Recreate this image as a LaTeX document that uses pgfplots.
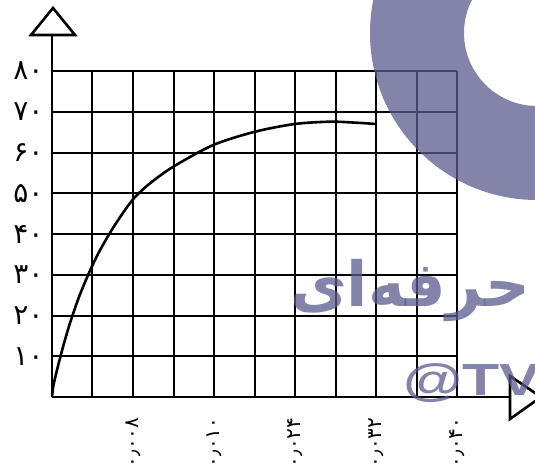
\documentclass[border=0pt]{standalone}
\usepackage{fontspec}
\usepackage{graphicx}
\usepackage{pgfplots}
\pgfplotsset{compat=1.18}
\TeXXeTstate=1
\newfontfamily\fa[Script=Arabic]{DejaVu Sans}
\newfontfamily\wmlat{Liberation Sans}
\definecolor{wm}{RGB}{91,91,142}

\begin{document}
\begin{tikzpicture}[x=1pt,y=1pt]
\useasboundingbox (0,0) rectangle (535,472);
\clip (0,0) rectangle (535,472);
\begin{axis}[
    at={(52pt,75pt)}, anchor=south west,
    scale only axis, width=405pt, height=326pt,
    xmin=0, xmax=0.040, ymin=0, ymax=80,
    axis lines=left,
    axis line style={-, line width=2.8pt},
    scaled x ticks=false,
    xtick={0.004,0.008,0.012,0.016,0.020,0.024,0.028,0.032,0.036,0.040},
    xticklabels={,۰٫۰۰۸,,۰٫۰۱۰,,۰٫۰۲۴,,۰٫۰۳۲,,۰٫۰۴۰},
    ytick={10,20,30,40,50,60,70,80},
    yticklabels={۱۰,۲۰,۳۰,۴۰,۵۰,۶۰,۷۰,۸۰},
    major tick length=0pt,
    grid=major,
    major grid style={black, line width=2pt},
    yticklabel style={font=\fa\fontsize{28}{30}\selectfont, text=black,
        anchor=east, xshift=-5pt},
    xticklabel style={font=\fa\fontsize{20}{22}\selectfont, text=black,
        rotate=90, anchor=east},
    xticklabel shift=17pt,
]
\addplot[black, line width=2.6pt, smooth, tension=0.5] coordinates {
    (0,0) (0.000148,2.94) (0.000593,7.61) (0.001086,12.27) (0.001778,18.16)
    (0.002667,24.54) (0.003605,30.18) (0.004593,35.34) (0.005896,40.98)
    (0.00721,45.89) (0.00820,49.08) (0.00968,52.44) (0.01198,56.52)
    (0.01593,61.84) (0.02005,65.10) (0.0240,67.0) (0.02746,67.56)
    (0.03009,67.31) (0.0320,67.0)
};
\end{axis}
% axis arrows
\draw[line width=2.8pt] (52,401) -- (52,437);
\draw[line width=2.6pt, fill=white, line join=miter] (31,437) -- (75,437) -- (53,464) -- cycle;
\draw[line width=2.8pt] (457,75) -- (510,75);
\draw[line width=2.6pt, fill=white, line join=miter] (510,96) -- (510,53) -- (541,75) -- cycle;
% watermark
\fill[wm, fill opacity=0.75, even odd rule] (537,439) circle (167) (537,439) circle (73);
\node[text=wm, text opacity=0.75, inner sep=0] at (410,182)
    {\resizebox{240pt}{!}{\fa\bfseries\fontsize{60}{60}\selectfont\beginR حرفه^^^^200cای\endR}};
\node[text=wm, text opacity=0.75, inner sep=0, anchor=base west, xscale=1.35] at (403,77)
    {\wmlat\bfseries\fontsize{45}{45}\selectfont @TV};
\end{tikzpicture}
\end{document}
